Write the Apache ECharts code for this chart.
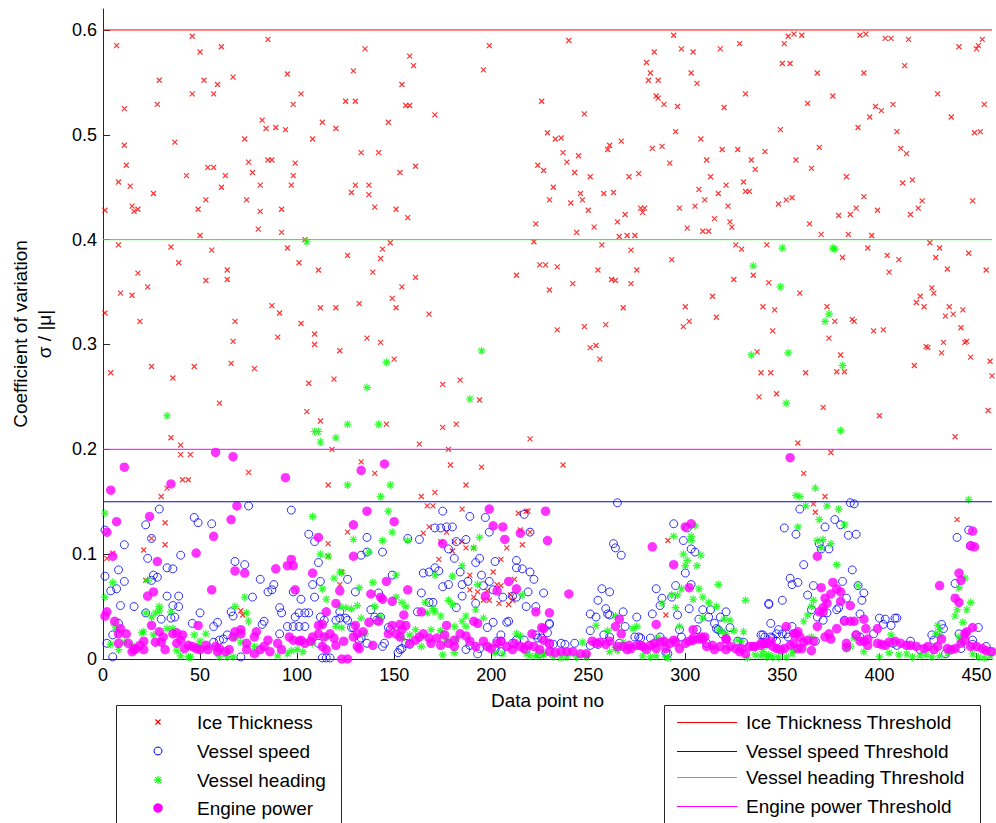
<!DOCTYPE html>
<html>
<head>
<meta charset="utf-8">
<script src="https://cdn.jsdelivr.net/npm/echarts@6/dist/echarts.min.js"></script>
<style>html,body{margin:0;padding:0;background:#fff}#chart{width:996px;height:823px}</style>
</head>
<body>
<div id="chart"></div>
<script>
// ---------- data (data point no, coefficient of variation) ----------
const iceThickness = [
[7,0.585],[46,0.594],[50,0.579],[61,0.584],[85,0.591],[135,0.582],[199,0.585],[158,0.575],[160,0.566],[196,0.562],[129,0.561],[95,0.558],[67,0.555],[29,0.552],[52,0.552],[59,0.548],[46,0.539],[57,0.539],[102,0.539],[154,0.548],[28,0.529],[11,0.525],[98,0.529],[125,0.532],[130,0.532],[156,0.528],[158,0.528],[171,0.519],[226,0.532],[229,0.502],[82,0.514],[84,0.506],[89,0.507],[94,0.505],[113,0.512],[120,0.506],[147,0.512],[73,0.496],[108,0.496],[37,0.493],[11,0.490],[133,0.483],[142,0.483],[12,0.471],[54,0.469],[57,0.469],[75,0.474],[85,0.476],[87,0.476],[99,0.473],[161,0.470],[224,0.471],[227,0.466],[153,0.464],[43,0.461],[63,0.461],[77,0.464],[98,0.461],[8,0.455],[14,0.451],[61,0.450],[81,0.452],[97,0.452],[130,0.452],[137,0.452],[128,0.445],[137,0.443],[26,0.444],[53,0.438],[74,0.438],[1,0.428],[15,0.432],[18,0.429],[16,0.427],[49,0.429],[81,0.427],[92,0.429],[140,0.431],[151,0.429],[157,0.421],[230,0.438],[223,0.415],[80,0.410],[92,0.407],[50,0.404],[104,0.400],[148,0.397],[222,0.398],[8,0.395],[35,0.393],[56,0.390],[95,0.392],[144,0.391],[126,0.385],[143,0.382],[39,0.378],[101,0.378],[225,0.376],[228,0.376],[64,0.371],[111,0.371],[18,0.368],[213,0.366],[64,0.362],[53,0.361],[139,0.369],[161,0.364],[23,0.355],[154,0.355],[9,0.349],[15,0.347],[230,0.352],[149,0.344],[87,0.337],[112,0.335],[120,0.335],[132,0.339],[151,0.335],[1,0.330],[91,0.330],[168,0.329],[19,0.322],[68,0.322],[102,0.320],[109,0.310],[90,0.307],[136,0.306],[67,0.303],[109,0.300],[143,0.302],[122,0.294],[150,0.286],[4,0.273],[25,0.279],[47,0.279],[66,0.282],[78,0.277],[36,0.268],[119,0.267],[106,0.263],[184,0.266],[175,0.262],[194,0.247],[60,0.244],[105,0.236],[112,0.227],[146,0.224],[175,0.221],[182,0.224],[35,0.211],[40,0.204],[220,0.210],[163,0.205],[40,0.195],[45,0.195],[118,0.200],[178,0.200],[133,0.188],[75,0.178],[140,0.177],[179,0.185],[195,0.183],[41,0.171],[44,0.171],[116,0.166],[187,0.166],[33,0.163],
[240,0.590],[294,0.595],[284,0.579],[298,0.582],[304,0.579],[318,0.582],[328,0.587],[351,0.587],[353,0.594],[356,0.596],[360,0.595],[390,0.595],[393,0.596],[403,0.592],[406,0.592],[415,0.591],[441,0.584],[453,0.591],[451,0.585],[450,0.582],[280,0.569],[282,0.559],[281,0.552],[286,0.552],[303,0.559],[306,0.549],[350,0.568],[354,0.568],[368,0.559],[392,0.559],[413,0.566],[285,0.537],[286,0.535],[289,0.529],[296,0.527],[320,0.526],[331,0.539],[363,0.530],[376,0.537],[398,0.527],[401,0.523],[407,0.529],[395,0.517],[430,0.539],[437,0.517],[454,0.529],[248,0.520],[389,0.507],[409,0.503],[449,0.502],[452,0.503],[233,0.496],[236,0.497],[295,0.503],[308,0.496],[349,0.505],[261,0.490],[260,0.486],[267,0.494],[283,0.487],[288,0.489],[319,0.486],[327,0.486],[341,0.484],[369,0.488],[411,0.487],[414,0.482],[237,0.483],[245,0.480],[239,0.474],[292,0.473],[311,0.476],[334,0.476],[336,0.467],[357,0.476],[365,0.468],[243,0.464],[251,0.460],[271,0.460],[276,0.463],[313,0.460],[383,0.460],[232,0.450],[321,0.452],[330,0.455],[307,0.448],[317,0.444],[331,0.446],[333,0.446],[412,0.454],[417,0.457],[241,0.435],[246,0.444],[247,0.438],[258,0.444],[263,0.445],[250,0.428],[277,0.430],[279,0.430],[278,0.426],[297,0.430],[305,0.432],[310,0.438],[322,0.432],[348,0.434],[352,0.438],[355,0.440],[392,0.441],[388,0.430],[399,0.428],[422,0.437],[420,0.430],[416,0.424],[448,0.437],[379,0.423],[385,0.424],[269,0.424],[265,0.417],[315,0.420],[323,0.417],[324,0.412],[364,0.415],[244,0.407],[253,0.412],[266,0.403],[270,0.404],[274,0.404],[301,0.411],[309,0.408],[312,0.408],[370,0.405],[384,0.405],[396,0.404],[257,0.395],[272,0.390],[326,0.395],[329,0.391],[342,0.395],[381,0.383],[394,0.392],[404,0.385],[410,0.381],[426,0.397],[431,0.392],[429,0.383],[446,0.387],[293,0.381],[234,0.374],[255,0.371],[275,0.371],[455,0.371],[405,0.369],[435,0.372],[262,0.362],[264,0.361],[272,0.358],[242,0.358],[325,0.362],[335,0.366],[343,0.359],[359,0.349],[427,0.354],[428,0.349],[421,0.346],[314,0.346],[268,0.335],[300,0.336],[340,0.336],[346,0.333],[373,0.336],[419,0.340],[423,0.336],[436,0.336],[443,0.333],[434,0.327],[438,0.329],[316,0.326],[302,0.322],[299,0.317],[377,0.322],[386,0.324],[387,0.322],[234,0.314],[248,0.317],[259,0.319],[345,0.313],[397,0.313],[402,0.314],[442,0.316],[374,0.306],[444,0.302],[445,0.303],[433,0.302],[424,0.298],[425,0.297],[251,0.297],[254,0.299],[256,0.286],[337,0.293],[380,0.290],[432,0.292],[447,0.288],[457,0.284],[418,0.280],[458,0.270],[339,0.273],[344,0.273],[362,0.273],[378,0.274],[382,0.274],[338,0.250],[347,0.253],[371,0.240],[400,0.232],[456,0.237],[439,0.212],[358,0.206],[375,0.197],[237,0.185],[361,0.177],
[30,0.155],[32,0.130],[32,0.109],[21,0.104],[5,0.101],[2,0.096],[25,0.115],[22,0.075],[116,0.110],[116,0.098],[71,0.046],[72,0.042],
[171,0.159],[164,0.155],[167,0.146],[170,0.146],[185,0.143],[214,0.139],[218,0.141],[219,0.141],[126,0.121],[168,0.126],[165,0.120],[177,0.121],[215,0.123],[220,0.121],[216,0.109],[181,0.112],[185,0.112],[187,0.106],[191,0.106],[208,0.106],[180,0.103],[173,0.095],[205,0.095],[123,0.083],[189,0.080],[201,0.083],[212,0.076],[122,0.071],[189,0.066],[193,0.064],[203,0.071],[205,0.070],[198,0.065],[191,0.059],[196,0.056],[199,0.056],[210,0.061],[211,0.056],[204,0.053],[209,0.052],[174,0.112],
[291,0.113],[290,0.042],[372,0.155],[366,0.148],[367,0.140],[440,0.133]
];
const vesselSpeed = [
[75,0.146],[29,0.143],[97,0.142],[47,0.135],[49,0.130],[56,0.129],[22,0.128],[1,0.123],[25,0.115],[106,0.119],[109,0.112],[11,0.109],[40,0.099],[23,0.096],[68,0.093],[73,0.090],[111,0.092],[33,0.087],[36,0.086],[8,0.085],[1,0.079],[26,0.080],[28,0.078],[25,0.075],[11,0.074],[81,0.076],[88,0.071],[85,0.064],[87,0.066],[7,0.067],[4,0.065],[112,0.074],[108,0.071],[98,0.064],[33,0.060],[39,0.060],[77,0.059],[102,0.057],[109,0.059],[9,0.051],[16,0.050],[36,0.051],[39,0.050],[91,0.049],[92,0.044],[22,0.044],[50,0.044],[66,0.045],[67,0.041],[35,0.039],[37,0.040],[30,0.038],[101,0.044],[104,0.044],[106,0.044],[99,0.040],[46,0.034],[57,0.031],[59,0.035],[82,0.033],[83,0.036],[98,0.031],[101,0.031],[95,0.031],[104,0.031],[8,0.034],[5,0.023],[64,0.023],[62,0.019],[91,0.024],[2,0.015],[57,0.016],[60,0.018],[111,0.015],[5,0.002],[71,0.002],[113,0.001],[115,0.001],[117,0.001],
[175,0.141],[189,0.136],[197,0.135],[217,0.138],[171,0.125],[174,0.125],[177,0.126],[180,0.126],[199,0.121],[220,0.121],[136,0.116],[157,0.115],[163,0.114],[187,0.114],[182,0.112],[178,0.105],[144,0.102],[136,0.102],[133,0.099],[181,0.096],[194,0.096],[192,0.092],[202,0.093],[213,0.094],[213,0.087],[216,0.086],[171,0.087],[173,0.084],[168,0.083],[165,0.082],[184,0.083],[195,0.080],[220,0.083],[149,0.080],[126,0.076],[188,0.074],[199,0.074],[222,0.076],[178,0.071],[175,0.069],[185,0.071],[196,0.070],[201,0.066],[219,0.064],[130,0.064],[164,0.063],[142,0.063],[206,0.059],[213,0.059],[211,0.060],[185,0.060],[168,0.054],[170,0.054],[192,0.053],[218,0.050],[223,0.050],[182,0.049],[138,0.047],[162,0.045],[122,0.045],[120,0.037],[122,0.039],[125,0.039],[126,0.037],[143,0.040],[140,0.040],[141,0.037],[112,0.040],[114,0.037],[198,0.030],[201,0.035],[208,0.035],[209,0.036],[128,0.030],[129,0.030],[147,0.030],[148,0.028],[230,0.034],[205,0.023],[203,0.017],[205,0.017],[211,0.015],[213,0.018],[223,0.023],[224,0.020],[226,0.020],[145,0.015],[144,0.012],[132,0.018],[133,0.020],[136,0.015],[156,0.015],[158,0.014],[154,0.010],[152,0.006],[153,0.009],[187,0.009],[189,0.013],[193,0.005],[194,0.010],[202,0.009],[205,0.007],[218,0.009],[225,0.005],[217,0.018],
[265,0.149],[294,0.129],[301,0.125],[299,0.113],[263,0.110],[264,0.106],[267,0.099],[303,0.105],[305,0.102],[300,0.082],[227,0.063],[257,0.067],[261,0.064],[285,0.067],[295,0.070],[303,0.071],[255,0.056],[288,0.058],[293,0.059],[287,0.051],[259,0.048],[251,0.043],[254,0.040],[260,0.043],[261,0.042],[268,0.045],[275,0.040],[283,0.043],[296,0.042],[302,0.048],[309,0.047],[313,0.047],[307,0.038],[312,0.040],[321,0.045],[318,0.040],[315,0.034],[343,0.053],[230,0.033],[229,0.025],[251,0.027],[269,0.031],[297,0.028],[306,0.028],[316,0.029],[317,0.028],[323,0.030],[319,0.024],[344,0.034],[258,0.023],[261,0.021],[274,0.021],[276,0.021],[277,0.020],[282,0.020],[298,0.021],[339,0.023],[340,0.023],[230,0.014],[232,0.014],[236,0.015],[238,0.014],[243,0.015],[251,0.013],[255,0.014],[266,0.015],[287,0.021],[290,0.006],[291,0.005],[311,0.015],[327,0.017],[330,0.016],[344,0.021],
[385,0.149],[387,0.148],[359,0.143],[351,0.125],[357,0.119],[372,0.126],[377,0.133],[380,0.128],[384,0.118],[388,0.119],[446,0.123],[440,0.116],[447,0.108],[369,0.110],[370,0.105],[374,0.105],[361,0.090],[386,0.085],[354,0.077],[355,0.071],[358,0.073],[366,0.070],[381,0.074],[389,0.070],[392,0.063],[391,0.056],[363,0.061],[383,0.058],[350,0.056],[343,0.052],[439,0.072],[365,0.047],[379,0.049],[378,0.047],[373,0.044],[368,0.040],[371,0.037],[390,0.043],[400,0.039],[403,0.038],[408,0.039],[409,0.039],[402,0.033],[406,0.032],[382,0.037],[355,0.031],[433,0.029],[432,0.033],[451,0.030],[341,0.021],[345,0.020],[347,0.017],[348,0.028],[347,0.024],[350,0.024],[352,0.024],[353,0.021],[367,0.017],[397,0.024],[388,0.023],[390,0.021],[416,0.017],[427,0.023],[428,0.018],[441,0.024],[448,0.018],[448,0.014],[455,0.012],[442,0.010],[434,0.005],[421,0.009],[407,0.015],[409,0.013],[457,0.007]
];
const vesselHeading = [
[33,0.232],[195,0.294],[146,0.283],[136,0.259],[189,0.248],[126,0.224],[142,0.224],[109,0.217],[111,0.217],[120,0.211],[112,0.207],[126,0.166],[148,0.166],[105,0.398],[350,0.392],[376,0.392],[377,0.391],[335,0.375],[349,0.355],[374,0.329],[372,0.322],[334,0.290],[353,0.292],[381,0.280],[352,0.244],[380,0.218],[367,0.163],
[1,0.139],[108,0.136],[112,0.100],[116,0.098],[5,0.073],[23,0.075],[113,0.067],[1,0.059],[73,0.059],[115,0.057],[29,0.050],[68,0.050],[74,0.044],[22,0.044],[25,0.040],[27,0.044],[29,0.046],[35,0.045],[75,0.036],[6,0.032],[7,0.028],[33,0.029],[36,0.029],[53,0.024],[20,0.025],[21,0.026],[26,0.023],[47,0.023],[4,0.014],[8,0.009],[11,0.016],[15,0.013],[38,0.008],[40,0.003],[44,0.002],[45,0.002],[50,0.009],[50,0.017],[68,0.020],[71,0.016],[67,0.002],[64,0.002],[60,0.002],[90,0.003],[95,0.005],[97,0.008],[100,0.009],[103,0.007],[108,0.015],[78,0.012],[49,0.013],
[143,0.155],[147,0.141],[149,0.121],[129,0.114],[144,0.113],[157,0.113],[194,0.116],[191,0.106],[137,0.102],[185,0.089],[122,0.083],[123,0.082],[151,0.080],[171,0.080],[180,0.079],[119,0.077],[139,0.073],[132,0.068],[193,0.071],[216,0.061],[151,0.059],[178,0.056],[180,0.052],[154,0.054],[156,0.050],[166,0.054],[122,0.050],[125,0.049],[140,0.050],[170,0.048],[171,0.045],[174,0.041],[128,0.048],[131,0.051],[192,0.047],[167,0.044],[133,0.039],[143,0.040],[187,0.041],[185,0.036],[187,0.031],[196,0.039],[120,0.031],[123,0.030],[181,0.031],[169,0.028],[161,0.028],[174,0.027],[177,0.018],[158,0.023],[154,0.020],[135,0.024],[115,0.021],[213,0.024],[215,0.022],[182,0.019],[199,0.012],[202,0.006],[206,0.005],[218,0.005],[220,0.003],[223,0.003],[224,0.003],[227,0.005],[175,0.004],[181,0.006],[164,0.012],
[305,0.127],[294,0.117],[303,0.117],[303,0.113],[299,0.100],[308,0.099],[301,0.094],[300,0.089],[306,0.089],[317,0.071],[307,0.067],[298,0.067],[293,0.061],[296,0.061],[304,0.057],[309,0.059],[312,0.054],[331,0.056],[316,0.050],[295,0.049],[309,0.039],[320,0.038],[323,0.037],[264,0.041],[254,0.032],[275,0.031],[273,0.029],[297,0.031],[260,0.027],[317,0.028],[319,0.026],[321,0.024],[325,0.027],[330,0.026],[288,0.053],[247,0.016],[268,0.016],[264,0.011],[286,0.020],[327,0.018],[329,0.017],[227,0.004],[232,0.002],[236,0.001],[239,0.002],[244,0.002],[249,0.002],[261,0.007],[265,0.008],[278,0.003],[282,0.002],[285,0.003],[290,0.002],[291,0.001],[332,0.001],[336,0.004],[339,0.003],[342,0.002],[275,0.012],[290,0.015],
[357,0.156],[359,0.155],[446,0.152],[362,0.146],[373,0.146],[379,0.143],[369,0.133],[382,0.128],[358,0.126],[368,0.113],[371,0.114],[375,0.110],[370,0.106],[378,0.090],[444,0.077],[389,0.070],[441,0.068],[447,0.054],[445,0.047],[366,0.056],[365,0.050],[363,0.042],[361,0.036],[439,0.041],[443,0.035],[440,0.047],[430,0.032],[431,0.028],[429,0.024],[431,0.023],[387,0.020],[406,0.023],[365,0.021],[441,0.021],[442,0.017],[342,0.013],[340,0.007],[343,0.004],[345,0.002],[348,0.002],[352,0.002],[355,0.005],[356,0.008],[383,0.010],[385,0.012],[392,0.007],[400,0.002],[405,0.006],[410,0.004],[414,0.005],[417,0.002],[421,0.003],[424,0.004],[427,0.002],[431,0.003],[435,0.005],[436,0.007],[448,0.005],[451,0.002],[454,0.001],[457,0.003]
];
const enginePower = [
[11,0.183],[58,0.197],[67,0.193],[94,0.173],[133,0.180],[145,0.186],[35,0.167],[4,0.161],[354,0.192],
[69,0.146],[24,0.136],[7,0.131],[66,0.133],[2,0.121],[57,0.117],[48,0.101],[5,0.098],[28,0.093],[68,0.084],[73,0.082],[89,0.086],[95,0.089],[98,0.089],[97,0.095],[108,0.082],[111,0.116],[56,0.066],[26,0.064],[23,0.060],[99,0.066],[1,0.041],[2,0.045],[6,0.036],[49,0.032],[25,0.032],[115,0.045],[113,0.033],[111,0.032],[71,0.028],[79,0.026],
[9,0.029],[8,0.024],[12,0.024],[8,0.015],[13,0.015],[15,0.007],[16,0.009],[17,0.010],[19,0.013],[21,0.017],[21,0.009],[27,0.016],[29,0.026],[30,0.016],[32,0.009],[31,0.021],[36,0.024],[38,0.025],[41,0.023],[40,0.018],[38,0.015],[42,0.010],[44,0.013],[46,0.012],[48,0.010],[50,0.009],[53,0.013],[54,0.009],[58,0.012],[59,0.007],[60,0.010],[63,0.007],[65,0.009],[67,0.021],[68,0.026],[71,0.024],[74,0.015],[74,0.009],[78,0.005],[78,0.021],[81,0.009],[83,0.012],[85,0.018],[86,0.007],[90,0.015],[92,0.009],[96,0.021],[98,0.018],[101,0.017],[102,0.018],[104,0.015],[107,0.017],[108,0.021],[111,0.024],[115,0.009],
[136,0.141],[199,0.143],[228,0.141],[129,0.128],[150,0.131],[201,0.127],[206,0.126],[215,0.120],[229,0.113],[175,0.110],[207,0.114],[129,0.098],[209,0.074],[213,0.067],[203,0.065],[197,0.060],[157,0.066],[146,0.074],[122,0.065],[138,0.062],[143,0.059],[144,0.057],[149,0.055],[120,0.053],[164,0.045],[155,0.042],[223,0.045],[230,0.044],[137,0.035],[142,0.036],[149,0.032],[153,0.033],[156,0.032],[154,0.028],[177,0.032],[191,0.036],[193,0.034],[130,0.032],[226,0.030],[221,0.024],[134,0.026],[117,0.024],[119,0.020],[124,0.017],[120,0.013],[131,0.012],[132,0.010],[139,0.013],[147,0.024],[151,0.024],[153,0.021],
[158,0.015],[161,0.018],[163,0.021],[165,0.024],[168,0.020],[169,0.015],[172,0.020],[174,0.013],[176,0.023],[178,0.015],[181,0.012],[181,0.018],[184,0.024],[187,0.022],[189,0.017],[192,0.012],[196,0.017],[198,0.012],[200,0.010],[203,0.015],[205,0.017],[208,0.012],[211,0.009],[212,0.015],[215,0.012],[217,0.010],[219,0.013],[222,0.012],[225,0.009],[227,0.018],[230,0.015],[123,0.0],[126,0.0],[114,0.021],[113,0.012],[129,0.021],[131,0.024],
[300,0.126],[303,0.129],[283,0.107],[294,0.090],[240,0.062],[302,0.068],[285,0.033],[266,0.038],[264,0.031],[227,0.029],[304,0.028],[267,0.024],[321,0.019],
[230,0.007],[233,0.006],[236,0.007],[239,0.007],[242,0.007],[246,0.005],[249,0.005],[252,0.017],[254,0.015],[256,0.016],[259,0.014],[261,0.017],[265,0.012],[268,0.012],[270,0.009],[272,0.010],[275,0.013],[278,0.012],[280,0.009],[282,0.013],[285,0.010],[287,0.016],[290,0.010],[292,0.015],[295,0.016],[297,0.010],[300,0.015],[302,0.017],[304,0.018],[307,0.019],[309,0.019],[311,0.012],[314,0.013],[315,0.009],[318,0.012],[321,0.009],[323,0.012],[326,0.010],[328,0.007],[331,0.005],[333,0.012],[336,0.012],[339,0.013],[341,0.015],[344,0.017],
[271,0.013],[277,0.013],[284,0.015],[289,0.017],[294,0.018],[304,0.020],[308,0.021],[310,0.021],[321,0.019],[329,0.010],[335,0.012],[341,0.015],
[448,0.122],[449,0.107],[447,0.108],[368,0.098],[441,0.082],[442,0.075],[431,0.070],[439,0.058],[441,0.054],[376,0.073],[378,0.067],[380,0.064],[370,0.068],[375,0.062],[372,0.058],[373,0.053],[380,0.055],[371,0.049],[385,0.051],[369,0.045],[371,0.045],[382,0.036],[385,0.036],[387,0.036],[392,0.038],[399,0.029],[393,0.029],[378,0.029],[368,0.031],[352,0.031],[448,0.030],[445,0.026],[444,0.024],[388,0.023],[390,0.017],[392,0.017],[356,0.024],[357,0.024],[359,0.021],[361,0.016],[365,0.008],[363,0.018],[383,0.015],[383,0.011],[394,0.019],[394,0.013],
[399,0.015],[401,0.014],[403,0.013],[405,0.016],[408,0.017],[411,0.015],[414,0.013],[416,0.013],[419,0.012],[423,0.010],[425,0.012],[428,0.009],[430,0.012],[432,0.019],[435,0.010],[437,0.009],[439,0.010],[442,0.015],[444,0.018],[447,0.012],[450,0.012],[453,0.010],[455,0.008],[458,0.007],
[339,0.015],[342,0.015],[345,0.012],[347,0.010],[349,0.009],[351,0.010],[354,0.013],[356,0.015],[358,0.010],[360,0.010],[374,0.024],[372,0.021],[375,0.019],[358,0.026],[366,0.017]
];
const thresholdNames = ['Ice Thickness Threshold','Vessel speed Threshold','Vessel heading Threshold','Engine power Threshold'];
const thresholdValues = [0.6, 0.15, 0.4, 0.2];
const xTicks = [0,50,100,150,200,250,300,350,400,450];
const yTicks = [0,0.1,0.2,0.3,0.4,0.5,0.6];
const xMax = 458;
const yMax = 0.62;

// ---------- chart ----------
const FONT = '"Liberation Sans", Arial, Helvetica, sans-serif';
const AXIS = '#262626';
const thresholdColors = ['#ff0000','#0000ff','#00ff00','#ff00ff'];
const chart = echarts.init(document.getElementById('chart'), null, {renderer: 'svg'});

const scatterSeries = [
  {name: 'Ice Thickness', data: iceThickness, symbol: 'path://M0,0L10,10M10,0L0,10', symbolSize: 5,
   itemStyle: {color: 'rgba(0,0,0,0)', borderColor: '#ff0000', borderWidth: 1.2}},
  {name: 'Vessel speed', data: vesselSpeed, symbol: 'circle', symbolSize: 8,
   itemStyle: {color: 'rgba(0,0,0,0)', borderColor: '#0000ff', borderWidth: 1}},
  {name: 'Vessel heading', data: vesselHeading, symbol: 'path://M5,0L5,10M0,5L10,5M1.5,1.5L8.5,8.5M8.5,1.5L1.5,8.5', symbolSize: 8,
   itemStyle: {color: 'rgba(0,0,0,0)', borderColor: '#00ff00', borderWidth: 1.2}},
  {name: 'Engine power', data: enginePower, symbol: 'circle', symbolSize: 9.5,
   itemStyle: {color: '#ff00ff'}}
].map(s => Object.assign({type: 'scatter', emphasis: {disabled: true}, silent: true, clip: false}, s));

const lineSeries = thresholdNames.map((n, i) => ({
  type: 'line', name: n, data: [[0, thresholdValues[i]], [xMax, thresholdValues[i]]],
  showSymbol: false, symbol: 'none', silent: true,
  lineStyle: {color: thresholdColors[i], width: 1}, emphasis: {disabled: true}
}));

// legends drawn as graphic boxes (two separate MATLAB-style legends)
const legendLeft = scatterSeries.map(s => s.name);
const rowsL = [722, 751, 780, 808];
const rowsR = [722, 751, 777, 806];
const g = [];
g.push({type: 'rect', shape: {x: 116.5, y: 705.5, width: 225, height: 140}, style: {fill: '#fff', stroke: AXIS, lineWidth: 1}, silent: true});
g.push({type: 'rect', shape: {x: 664.5, y: 705.5, width: 316, height: 140}, style: {fill: '#fff', stroke: AXIS, lineWidth: 1}, silent: true});
// left legend icons
const cx = 158;
g.push({type: 'line', shape: {x1: cx-2.5, y1: rowsL[0]-2.5, x2: cx+2.5, y2: rowsL[0]+2.5}, style: {stroke: '#ff0000', lineWidth: 1.2}});
g.push({type: 'line', shape: {x1: cx+2.5, y1: rowsL[0]-2.5, x2: cx-2.5, y2: rowsL[0]+2.5}, style: {stroke: '#ff0000', lineWidth: 1.2}});
g.push({type: 'circle', shape: {cx: cx, cy: rowsL[1], r: 4}, style: {fill: 'none', stroke: '#0000ff', lineWidth: 1}});
[[0,-4,0,4],[-4,0,4,0],[-2.8,-2.8,2.8,2.8],[2.8,-2.8,-2.8,2.8]].forEach(d => g.push({type: 'line', shape: {x1: cx+d[0], y1: rowsL[2]+d[1], x2: cx+d[2], y2: rowsL[2]+d[3]}, style: {stroke: '#00ff00', lineWidth: 1.2}}));
g.push({type: 'circle', shape: {cx: cx, cy: rowsL[3], r: 4.75}, style: {fill: '#ff00ff'}});
legendLeft.forEach((t, i) => g.push({type: 'text', x: 197, y: rowsL[i], style: {text: t, font: '19px ' + FONT, fill: '#000', verticalAlign: 'middle', align: 'left'}}));
thresholdNames.forEach((t, i) => {
  g.push({type: 'line', shape: {x1: 677, y1: rowsR[i] + 0.5, x2: 737, y2: rowsR[i] + 0.5}, style: {stroke: thresholdColors[i], lineWidth: 1}});
  g.push({type: 'text', x: 746, y: rowsR[i], style: {text: t, font: '19px ' + FONT, fill: '#000', verticalAlign: 'middle', align: 'left'}});
});

chart.setOption({
  animation: false,
  backgroundColor: '#fff',
  textStyle: {fontFamily: FONT},
  grid: {left: 103, right: 4, top: 9, bottom: 164, containLabel: false},
  xAxis: {
    type: 'value', min: 0, max: xMax,
    name: 'Data point no', nameLocation: 'middle', nameGap: 32,
    nameTextStyle: {fontSize: 19, color: '#000', fontFamily: FONT},
    axisLine: {show: true, onZero: false, lineStyle: {color: AXIS, width: 1}},
    axisTick: {show: true, inside: true, length: 6, customValues: xTicks, lineStyle: {color: AXIS}},
    axisLabel: {customValues: xTicks, fontSize: 18, color: '#000', margin: 7, fontFamily: FONT},
    splitLine: {show: false}
  },
  yAxis: {
    type: 'value', min: 0, max: yMax,
    name: 'Coefficient of variation\nσ / |μ|', nameLocation: 'middle', nameGap: 47, nameRotate: 90,
    nameTextStyle: {fontSize: 19, lineHeight: 24, color: '#000', fontFamily: FONT, align: 'center'},
    axisLine: {show: true, onZero: false, lineStyle: {color: AXIS, width: 1}},
    axisTick: {show: true, inside: true, length: 7, customValues: yTicks, lineStyle: {color: AXIS}},
    axisLabel: {customValues: yTicks, fontSize: 18, color: '#000', margin: 6, fontFamily: FONT},
    splitLine: {show: false}
  },
  series: scatterSeries.concat(lineSeries),
  graphic: {elements: g}
});
</script>
</body>
</html>
